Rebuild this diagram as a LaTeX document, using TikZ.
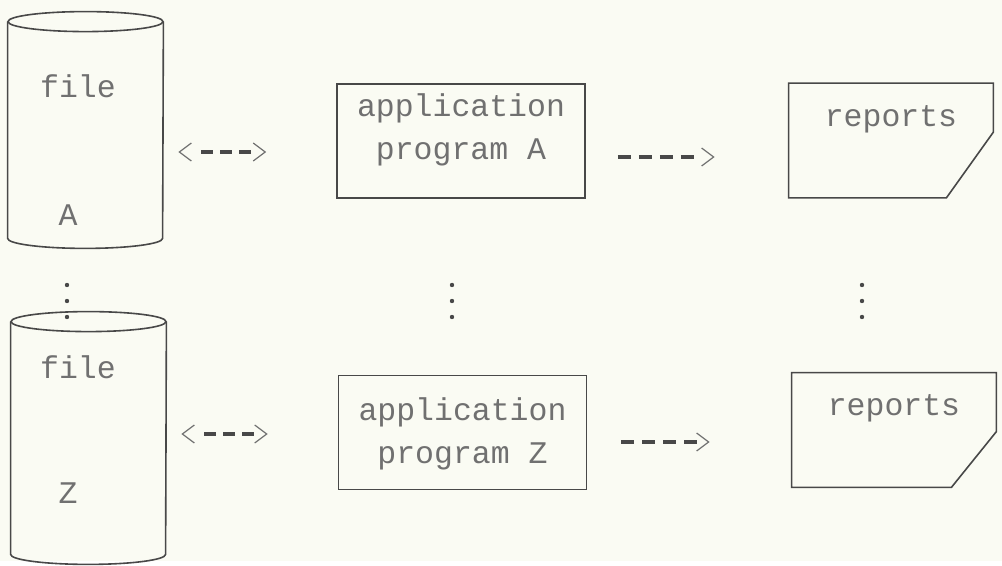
\documentclass[tikz,border=0pt]{standalone}
\usepackage{fontspec}
\setmonofont{Liberation Mono}
\usepackage{tikz}
\usetikzlibrary{positioning,arrows.meta}
\definecolor{paper}{RGB}{250,251,243}
\definecolor{ink}{RGB}{72,72,72}
\definecolor{type}{RGB}{112,112,112}

\begin{document}
\begin{tikzpicture}[x=0.5pt,y=-0.5pt,
        every node/.style = {font=\ttfamily\fontsize{15.75}{21.5}\selectfont, text=type},
        drum/.style = {minimum width=77.5pt, inner sep=0pt},
        prog/.style = {draw=ink, line width=0.8pt, minimum width=124pt, minimum height=57pt, inner sep=0pt},
        sheet/.style = {minimum width=102pt, minimum height=57pt, inner sep=0pt, text height=12pt, text depth=26pt},
        edge/.style = {draw=ink, line width=0.8pt},
        link/.style = {ink, line width=1.6pt, dash pattern=on 6.5pt off 4pt on 6.5pt off 4pt on 6.5pt off 4pt on 6.5pt off 20pt},
        twoway/.style = {link, <->, dash pattern=on 0pt off 10.5pt on 6pt off 3.5pt on 6pt off 3.5pt on 6pt off 20pt},
        > = {Straight Barb[length=6pt, width=9pt, line width=0.6pt, color=type]}
        ]
        \fill[paper] (0,0) rectangle (1002,561);
        % files
        \node[drum, minimum height=108pt] (fa) at (85.5,130) {};
        \node[drum, minimum height=116pt] (fz) at (88.5,438) {};
        \path[edge] (fa.north) ellipse [x radius=77.5, y radius=10];
        \path[edge] (fa.north west) -- (fa.south west) arc [start angle=180, end angle=0, x radius=77.5, y radius=10] -- (fa.north east);
        \path[edge] (fz.north) ellipse [x radius=77.5, y radius=10];
        \path[edge] (fz.north west) -- (fz.south west) arc [start angle=180, end angle=0, x radius=77.5, y radius=10] -- (fz.north east);
        \node (fat) at (78,86) {file};
        \node (fal) at (68,215) {A};
        \node (fzt) at (78,367) {file};
        \node (fzl) at (68,493) {Z};
        % programs
        \node[prog] (pa) at (461,141) {};
        \node[prog] (pz) at (462.5,432.5) {};
        \node[align=center] (pat) at (461,130) {application\\program A};
        \node[align=center] (pzt) at (462.5,434) {application\\program Z};
        % reports
        \node[sheet] (ra) at (891,140.5) {reports};
        \node[sheet] (rz) at (894,430) {reports};
        \path[edge] (ra.south west) -- (ra.north west) -- (ra.north east) -- ([yshift=-24.5pt]ra.north east) -- ([xshift=-23.5pt]ra.south east) -- cycle;
        \path[edge] (rz.south west) -- (rz.north west) -- (rz.north east) -- ([yshift=-29.5pt]rz.north east) -- ([xshift=-22.5pt]rz.south east) -- cycle;
        % flows
        \draw[twoway, shorten <=7.5pt, shorten >=35pt] (fa.east |- 0,152) -- (pa.west |- 0,152);
        \draw[link, ->, shorten <=16pt, shorten >=37pt] (pa.east |- 0,157) -- (ra.west |- 0,157);
        \draw[twoway, shorten <=7.5pt, shorten >=35pt] (fz.east |- 0,434) -- (pz.west |- 0,434);
        \draw[link, ->, shorten <=17pt, shorten >=41pt] (pz.east |- 0,442) -- (rz.west |- 0,442);
        % dots
        \foreach \x in {67,452,862}
          \foreach \y in {285,301,317}
            \fill[ink] (\x,\y) circle [radius=2.2];
\end{tikzpicture}
\end{document}
